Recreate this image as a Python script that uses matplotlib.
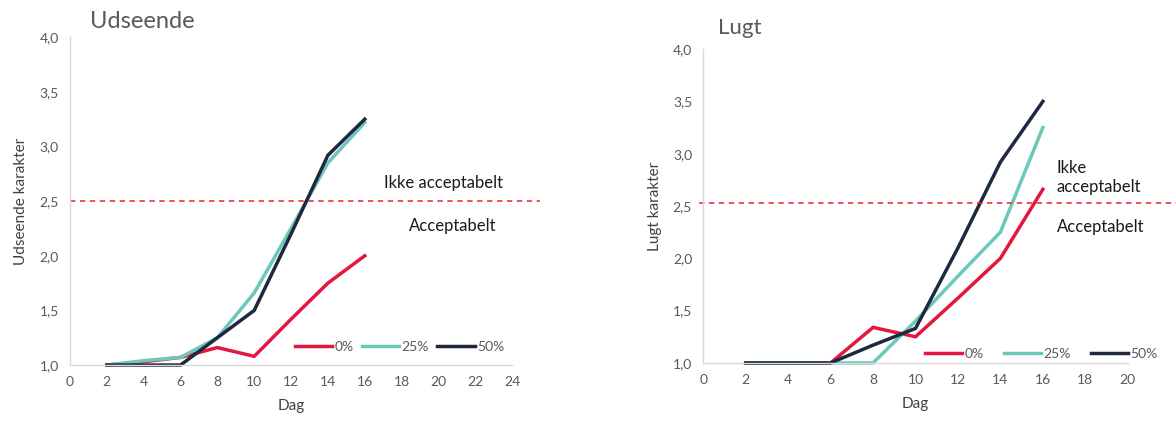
import matplotlib
matplotlib.use('Agg')
import matplotlib.pyplot as plt
from matplotlib.ticker import FuncFormatter

plt.rcParams['font.family'] = ['Lato', 'DejaVu Sans']

days = [2, 4, 6, 8, 10, 12, 14, 16]
series_labels = ["0%", "25%", "50%"]
colors = ["#e4173e", "#6cc8b8", "#1e2940"]

# appearance scores
udseende = {
    "0%": [1.0, 1.03, 1.07, 1.16, 1.08, 1.42, 1.75, 2.0],
    "25%": [1.0, 1.04, 1.07, 1.25, 1.66, 2.25, 2.85, 3.22],
    "50%": [1.0, 1.0, 1.0, 1.25, 1.5, 2.2, 2.92, 3.25],
}
# odour scores
lugt = {
    "0%": [1.0, 1.0, 1.0, 1.34, 1.25, 1.62, 2.0, 2.66],
    "25%": [1.0, 1.0, 1.0, 1.0, 1.4, 1.83, 2.25, 3.25],
    "50%": [1.0, 1.0, 1.0, 1.17, 1.33, 2.1, 2.92, 3.5],
}
limit_udseende = 2.5
limit_lugt = 2.53

grey = "#595959"
comma = FuncFormatter(lambda v, p: f"{v:.1f}".replace(".", ","))

fig = plt.figure(figsize=(11.76, 4.23), dpi=100)
ax1 = fig.add_axes([0.0595, 0.137, 0.376, 0.775])
ax2 = fig.add_axes([0.598, 0.142, 0.361, 0.742])


def style_axis(ax, xmax, ylabel):
    for s in ["top", "right"]:
        ax.spines[s].set_visible(False)
    for s in ["left", "bottom"]:
        ax.spines[s].set_color("#d9d9d9")
        ax.spines[s].set_linewidth(1.0)
    ax.set_xlim(0, xmax)
    ax.set_ylim(1.0, 4.0)
    ax.set_xticks(range(0, xmax + 1, 2))
    ax.set_yticks([1.0, 1.5, 2.0, 2.5, 3.0, 3.5, 4.0])
    ax.yaxis.set_major_formatter(comma)
    ax.tick_params(length=0, labelsize=10, colors=grey, pad=8)
    ax.set_xlabel("Dag", fontsize=11, color="#404040", labelpad=8)
    ax.set_ylabel(ylabel, fontsize=11, color="#404040", labelpad=8)


for ax, data in [(ax1, udseende), (ax2, lugt)]:
    for lab, c in zip(series_labels, colors):
        ax.plot(days, data[lab], color=c, linewidth=2.5, label=lab,
                solid_joinstyle="miter", clip_on=False)

style_axis(ax1, 24, "Udseende karakter")
style_axis(ax2, 20, "Lugt karakter")

# limit lines run a little past the plot area
ax1.axhline(limit_udseende, color="#e8232a", linestyle=(0, (3.5, 3)), linewidth=1.1,
            xmin=0, xmax=1.063, clip_on=False)
ax2.axhline(limit_lugt, color="#e8232a", linestyle=(0, (3.5, 3)), linewidth=1.1,
            xmin=-0.01, xmax=1.113, clip_on=False)

ax1.text(20.3, 2.67, "Ikke acceptabelt", fontsize=12, ha="center", va="center", color="#1a1a1a")
ax1.text(20.8, 2.27, "Acceptabelt", fontsize=12, ha="center", va="center", color="#1a1a1a")
ax2.text(16.66, 2.77, "Ikke\nacceptabelt", fontsize=12, ha="left", va="center",
         color="#1a1a1a", linespacing=1.25)
ax2.text(16.66, 2.30, "Acceptabelt", fontsize=12, ha="left", va="center", color="#1a1a1a")

fig.text(90 / 1176, 1 - 22 / 423, "Udseende", fontsize=17, color=grey, va="center", ha="left")
fig.text(718 / 1176, 1 - 28 / 423, "Lugt", fontsize=16, color=grey, va="center", ha="left")

for ax, anchor, colsp in [(ax1, (1.01, 0.0), 0.6), (ax2, (1.1, -0.03), 1.45)]:
    leg = ax.legend(ncol=3, frameon=False, loc="lower right", bbox_to_anchor=anchor,
                    handlelength=2.7, handletextpad=0.15, columnspacing=colsp,
                    fontsize=10)
    for t in leg.get_texts():
        t.set_color(grey)

fig.savefig("out.png", dpi=100)
